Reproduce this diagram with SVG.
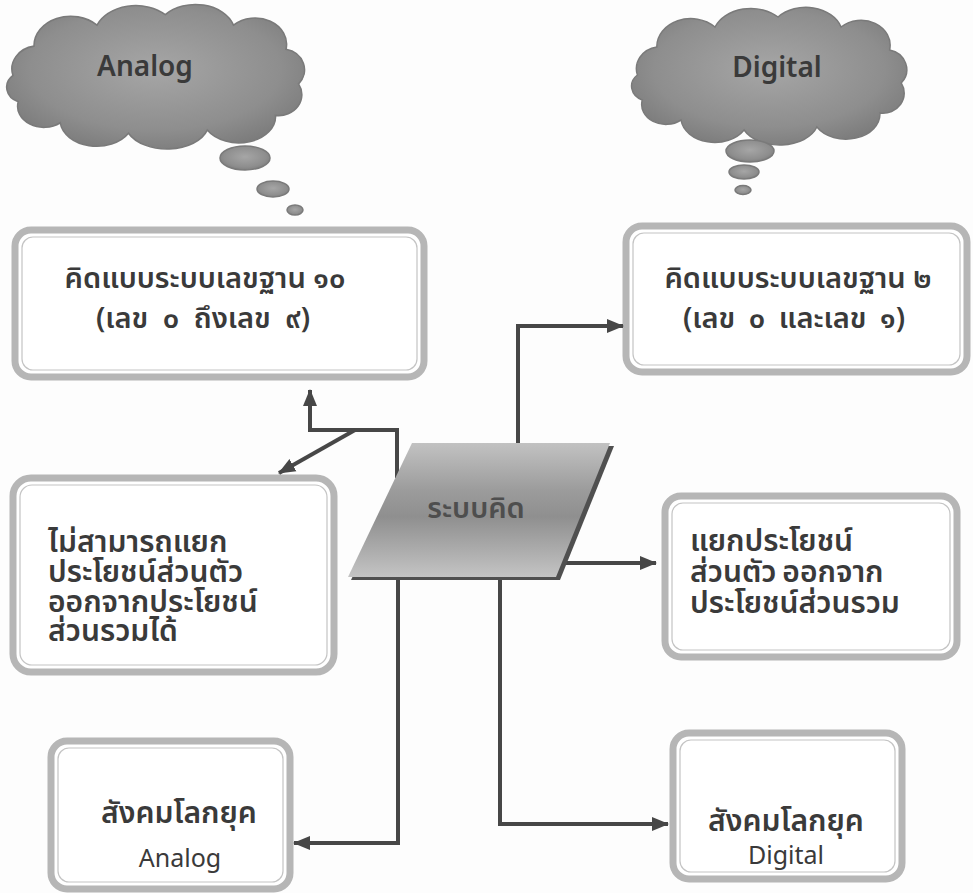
<svg xmlns="http://www.w3.org/2000/svg" width="973" height="893" viewBox="0 0 973 893">
<defs>
<style>
.box{fill:#ffffff;stroke:#b6b6b6;stroke-width:7}
.inner{fill:none;stroke:#c4c4c4;stroke-width:1.2}
.t{font-family:"Noto Sans Thai","Noto Sans","Tahoma",sans-serif;font-size:29px;font-weight:600;fill:#3a3a3a}
.t2{font-size:30px}
.lat{font-family:"Noto Sans",sans-serif;font-size:25px;font-weight:400;fill:#3a3a3a}
.ct{font-family:"Noto Sans",sans-serif;font-size:28px;font-weight:600;fill:#3a3a3a}
.con{fill:none;stroke:#474747;stroke-width:4}
.cloud{fill:url(#cg);stroke:#7a7a7a;stroke-width:1.5}
</style>
<radialGradient id="cg" cx="50%" cy="45%" r="60%">
<stop offset="0" stop-color="#a6a6a6"/>
<stop offset="0.7" stop-color="#8e8e8e"/>
<stop offset="1" stop-color="#7a7a7a"/>
</radialGradient>
<linearGradient id="pg" x1="0" y1="0" x2="0" y2="1">
<stop offset="0" stop-color="#c2c2c2"/>
<stop offset="0.35" stop-color="#9c9c9c"/>
<stop offset="0.55" stop-color="#8f8f8f"/>
<stop offset="0.8" stop-color="#acacac"/>
<stop offset="1" stop-color="#c4c4c4"/>
</linearGradient>
<path id="cloudp" d="M 20,70 A 25,22 0 0 1 40,42 A 35,28 0 0 1 100,22 A 40,30 0 0 1 165,12 A 38,28 0 0 1 230,22 A 30,25 0 0 1 280,45 A 22,20 0 0 1 292,78 A 22,20 0 0 1 270,108 A 35,25 0 0 1 205,122 A 40,25 0 0 1 130,125 A 35,25 0 0 1 65,115 A 25,20 0 0 1 25,95 A 18,15 0 0 1 20,70 Z"/>
<marker id="ah" markerUnits="userSpaceOnUse" markerWidth="18" markerHeight="16" refX="16" refY="8" orient="auto">
<path d="M0,1 L17,8 L0,15 Z" fill="#474747"/>
</marker>
</defs>
<rect width="973" height="893" fill="#fdfdfd"/>

<g id="cloud-analog">
<use href="#cloudp" class="cloud" transform="translate(-8,2) scale(1.05,1.05)"/>
<ellipse cx="245" cy="158" rx="25" ry="12" class="cloud"/>
<ellipse cx="273" cy="189" rx="16" ry="8" class="cloud"/>
<ellipse cx="295" cy="210" rx="8" ry="5" class="cloud"/>
<text x="145" y="76" class="ct" text-anchor="middle">Analog</text>
</g>

<g id="cloud-digital">
<use href="#cloudp" class="cloud" transform="translate(618,5) scale(0.97,1.0)"/>
<ellipse cx="750" cy="151" rx="24" ry="11" class="cloud"/>
<ellipse cx="744" cy="172" rx="15" ry="7" class="cloud"/>
<ellipse cx="743" cy="190" rx="8" ry="4.5" class="cloud"/>
<text x="777" y="77" class="ct" text-anchor="middle">Digital</text>
</g>

<g id="box-base10">
<rect x="15" y="230" width="409" height="147" rx="16" class="box"/>
<rect x="22" y="237" width="395" height="133" rx="11" class="inner"/>
<text x="205" y="288" class="t" text-anchor="middle">คิดแบบระบบเลขฐาน ๑๐</text>
<text x="203" y="328" class="t" text-anchor="middle" word-spacing="7">(เลข ๐ ถึงเลข ๙)</text>
</g>

<g id="box-base2">
<rect x="626" y="226" width="341" height="146" rx="16" class="box"/>
<rect x="633" y="233" width="327" height="132" rx="11" class="inner"/>
<text x="798" y="288" class="t" text-anchor="middle">คิดแบบระบบเลขฐาน ๒</text>
<text x="794" y="328" class="t" text-anchor="middle" word-spacing="6">(เลข ๐ และเลข ๑)</text>
</g>

<g id="box-nosplit">
<rect x="13" y="478" width="321" height="194" rx="18" class="box"/>
<rect x="20" y="485" width="307" height="180" rx="12" class="inner"/>
<text x="48" y="552" class="t t2">ไม่สามารถแยก</text>
<text x="48" y="582" class="t t2">ประโยชน์ส่วนตัว</text>
<text x="48" y="612" class="t t2">ออกจากประโยชน์</text>
<text x="48" y="641" class="t t2">ส่วนรวมได้</text>
</g>

<g id="box-split">
<rect x="665" y="496" width="292" height="161" rx="16" class="box"/>
<rect x="672" y="503" width="278" height="147" rx="11" class="inner"/>
<text x="690" y="551" class="t t2">แยกประโยชน์</text>
<text x="690" y="582" class="t t2" word-spacing="-2">ส่วนตัว ออกจาก</text>
<text x="690" y="613" class="t t2">ประโยชน์ส่วนรวม</text>
</g>

<g id="box-soc-analog">
<rect x="51" y="741" width="239" height="148" rx="16" class="box"/>
<rect x="58" y="748" width="225" height="134" rx="11" class="inner"/>
<text x="179" y="823" class="t t2" text-anchor="middle">สังคมโลกยุค</text>
<text x="180" y="867" class="lat" text-anchor="middle">Analog</text>
</g>

<g id="box-soc-digital">
<rect x="673" y="733" width="229" height="146" rx="16" class="box"/>
<rect x="680" y="740" width="215" height="132" rx="11" class="inner"/>
<text x="786" y="831" class="t t2" text-anchor="middle">สังคมโลกยุค</text>
<text x="786" y="864" class="lat" text-anchor="middle">Digital</text>
</g>

<g id="connectors">
<path class="con" d="M397,478 V430 H310 V390" marker-end="url(#ah)"/>
<path class="con" d="M355,430 L279,473" marker-end="url(#ah)"/>
<path class="con" d="M518,443 V326 H623" marker-end="url(#ah)"/>
<path class="con" d="M557,563 H656" marker-end="url(#ah)"/>
<path class="con" d="M398,578 V843 H294" marker-end="url(#ah)"/>
<path class="con" d="M500,578 V824 H668" marker-end="url(#ah)"/>
</g>

<g id="thinking-system">
<polygon points="415,446 614,446 560,580 351,580" fill="#505050"/>
<polygon points="412,443 610,443 556,577 348,577" fill="url(#pg)"/>
<text x="476" y="518" class="t" text-anchor="middle" style="fill:#4e4e4e">ระบบคิด</text>
</g>
</svg>
